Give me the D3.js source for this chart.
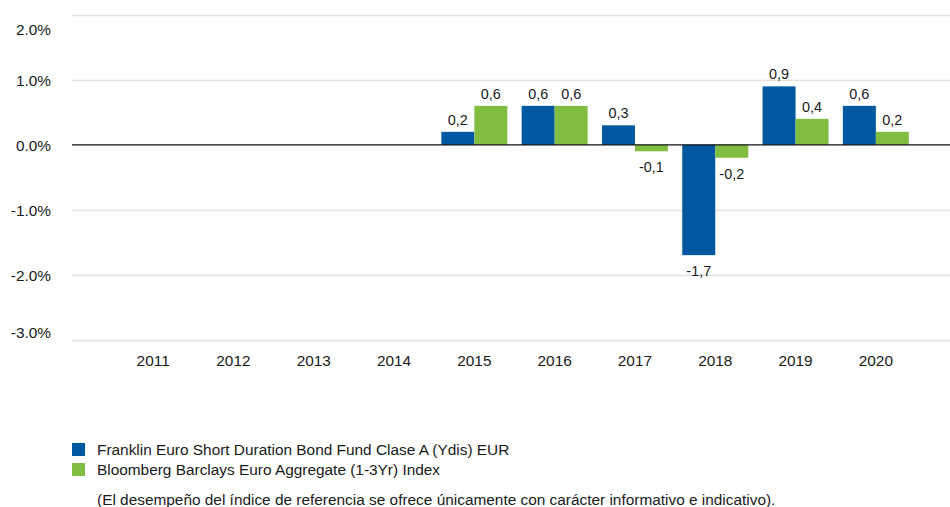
<!DOCTYPE html>
<html>
<head>
<meta charset="utf-8">
<script src="https://cdn.jsdelivr.net/npm/d3@7"></script>
<style>
  body { margin: 0; background: #fff; }
  svg text { font-family: "Liberation Sans", Arial, sans-serif; fill: #1a1a1a; }
</style>
</head>
<body>
<div id="chart"></div>
<script>
// Data
const years = ["2011", "2012", "2013", "2014", "2015", "2016", "2017", "2018", "2019", "2020"];
const fundValues = [null, null, null, null, 0.2, 0.6, 0.3, -1.7, 0.9, 0.6];
const indexValues = [null, null, null, null, 0.6, 0.6, -0.1, -0.2, 0.4, 0.2];
const seriesNames = [
    "Franklin Euro Short Duration Bond Fund Clase A (Ydis) EUR",
    "Bloomberg Barclays Euro Aggregate (1-3Yr) Index"
];
const yTicks = [2, 1, 0, -1, -2, -3];
const footnote = "(El desempeño del índice de referencia se ofrece únicamente con carácter informativo e indicativo).";

const colors = ["#0059A0", "#80BD41"];

const width = 950, height = 507;

// hyphen minus, like the original
const axisFmt = d3.formatLocale({ decimal: ".", thousands: ",", grouping: [3], currency: ["", ""], minus: "-" }).format(".1f");
const valFmt = d3.formatLocale({ decimal: ",", thousands: ".", grouping: [3], currency: ["", ""], minus: "-" }).format(".1f");

const svg = d3.select("#chart")
    .append("svg")
    .attr("width", width)
    .attr("height", height);

// Scales
const yScale = d3.scaleLinear()
    .domain([-3, 2])
    .range([339.5, 15]);

const xScale = d3.scaleBand()
    .domain(years)
    .range([113, 916])
    .paddingInner(0)
    .paddingOuter(0);

const xSub = d3.scaleBand()
    .domain([0, 1])
    .range([0, 66])
    .padding(0);

const gridLeft = 72, gridRight = 950;

// Grid lines
svg.append("g")
    .selectAll("line")
    .data(yTicks.filter(d => d !== 0))
    .enter().append("line")
    .attr("x1", gridLeft)
    .attr("x2", gridRight)
    .attr("y1", d => Math.round(yScale(d)) + 0.5)
    .attr("y2", d => Math.round(yScale(d)) + 0.5)
    .attr("stroke", "#e3e3e3")
    .attr("stroke-width", 1.3);

// Y axis labels (outer ones sit inside the plot, as in the original)
svg.append("g")
    .selectAll("text")
    .data(yTicks)
    .enter().append("text")
    .attr("x", 51)
    .attr("y", d => Math.min(338, Math.max(34.5, yScale(d) + 6)))
    .attr("text-anchor", "end")
    .style("font-size", "15.4px")
    .text(d => axisFmt(d) + "%");

// Bars
const seriesData = [fundValues, indexValues];
seriesData.forEach((vals, s) => {
    const pts = years.map((y, i) => ({ year: y, value: vals[i] })).filter(d => d.value !== null);
    const x = d => xScale(d.year) + xScale.bandwidth() / 2 - 33 + xSub(s);

    svg.append("g")
        .selectAll("rect")
        .data(pts)
        .enter().append("rect")
        .attr("x", x)
        .attr("y", d => yScale(Math.max(0, d.value)))
        .attr("width", xSub.bandwidth())
        .attr("height", d => Math.abs(yScale(d.value) - yScale(0)))
        .attr("fill", colors[s]);

    // Value labels
    svg.append("g")
        .selectAll("text")
        .data(pts)
        .enter().append("text")
        .attr("x", d => x(d) + xSub.bandwidth() / 2)
        .attr("y", d => d.value >= 0 ? yScale(d.value) - 7 : yScale(d.value) + 21)
        .attr("text-anchor", "middle")
        .style("font-size", "14.4px")
        .text(d => valFmt(d.value));
});

// Zero line
svg.append("line")
    .attr("x1", gridLeft)
    .attr("x2", gridRight)
    .attr("y1", yScale(0))
    .attr("y2", yScale(0))
    .attr("stroke", "#111")
    .attr("stroke-width", 1.2);

// X axis labels
svg.append("g")
    .selectAll("text")
    .data(years)
    .enter().append("text")
    .attr("x", d => xScale(d) + xScale.bandwidth() / 2)
    .attr("y", 366)
    .attr("text-anchor", "middle")
    .style("font-size", "15.4px")
    .text(d => d);

// Legend
const legend = svg.append("g");
seriesNames.forEach((name, i) => {
    legend.append("rect")
        .attr("x", 72)
        .attr("y", 443 + i * 20)
        .attr("width", 13)
        .attr("height", 13)
        .attr("fill", colors[i]);
    legend.append("text")
        .attr("x", 97)
        .attr("y", 455 + i * 20)
        .style("font-size", "15.4px")
        .text(name);
});

svg.append("text")
    .attr("x", 97)
    .attr("y", 505)
    .style("font-size", "15.4px")
    .text(footnote);
</script>
</body>
</html>
